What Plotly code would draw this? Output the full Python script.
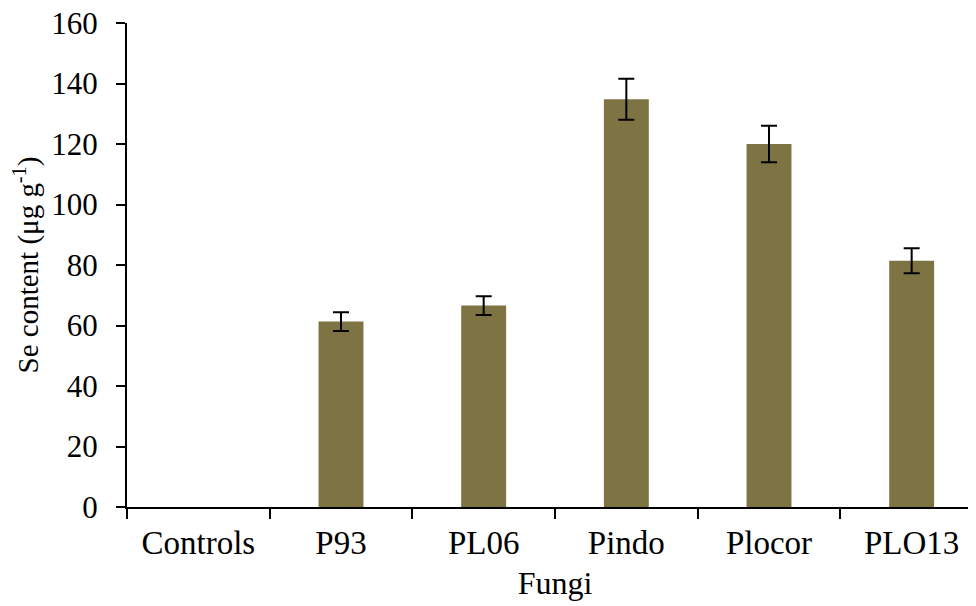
import plotly.graph_objects as go

categories = ["Controls", "P93", "PL06", "Pindo", "Plocor", "PLO13"]
se_content = [None, 61.3, 66.6, 134.8, 120.0, 81.4]
se_error = [None, 3.1, 3.1, 6.8, 6.0, 4.1]
y_ticks = [0, 20, 40, 60, 80, 100, 120, 140, 160]

FONT = "Liberation Serif"

fig = go.Figure()
fig.add_trace(go.Bar(
    x=categories,
    y=se_content,
    width=0.315,
    marker=dict(color="#7E7443", line=dict(width=0)),
    error_y=dict(type="data", array=se_error, visible=True,
                 color="black", thickness=2, width=8),
))

fig.update_layout(
    width=976, height=606,
    margin=dict(l=119, r=1, t=15, b=107, autoexpand=False),
    plot_bgcolor="white", paper_bgcolor="white",
    showlegend=False,
    font=dict(family=FONT, size=30, color="black"),
    xaxis=dict(
        type="category",
        range=[-0.5, 5.5],
        automargin=False,
        showline=True, linecolor="black", linewidth=2,
        ticks="outside", ticklen=10, tickwidth=2, tickcolor="black",
        tickson="boundaries",
        showgrid=False, zeroline=False,
        tickfont=dict(family=FONT, size=33),
        ticklabelstandoff=5,
        ticklabeloverflow="allow",
        title=dict(text="Fungi", font=dict(family=FONT, size=32), standoff=12),
    ),
    yaxis=dict(
        range=[0, 160],
        tickvals=y_ticks,
        automargin=False,
        showline=True, linecolor="black", linewidth=2,
        ticks="outside", ticklen=9, tickwidth=2, tickcolor="black",
        showgrid=False, zeroline=False,
        tickfont=dict(family=FONT, size=31),
        ticklabelstandoff=12,
        ticklabeloverflow="allow",
        title=dict(text="Se content (μg g<sup>-1</sup>)", font=dict(family=FONT, size=29), standoff=14),
    ),
)

fig.write_html("out.html")
